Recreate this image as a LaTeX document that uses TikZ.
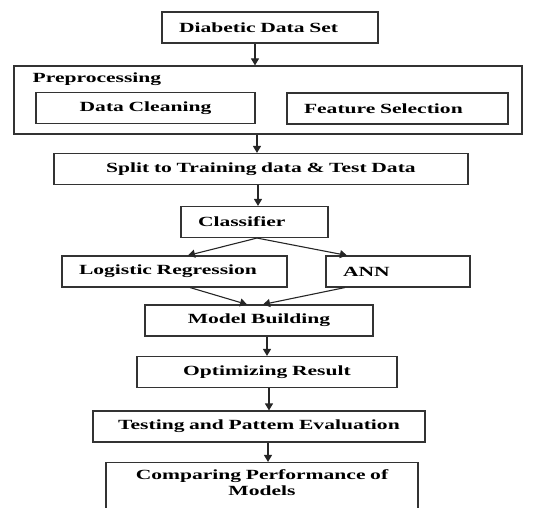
\documentclass[tikz,border=0pt]{standalone}
\usepackage{fontspec}
\setmainfont[FakeStretch=1.54]{Liberation Serif}
\usetikzlibrary{positioning, arrows.meta}

\begin{document}
\begin{tikzpicture} [node distance = 1cm, on grid, x = 1pt, y = 1pt,
    box/.style = {draw = black!80, line width = 1.1pt, inner xsep = 17pt, inner ysep = 0pt,
                  minimum height = 31pt, align = left, font = \fontsize{14pt}{16pt}\selectfont\bfseries},
    arr/.style = {-{Triangle[width = 8pt, length = 7pt]}, line width = 1.1pt, black!85}]
\useasboundingbox (0,0) rectangle (547,-508);
\node (dds) [box, text width = 182pt] at (270,-27.5) {Diabetic Data Set};
\node (pre) [box, minimum width = 508pt, minimum height = 68pt, below = 72.5pt of dds, xshift = -2pt] {};
\node (prelbl) [anchor = west, font = \fontsize{14pt}{16pt}\selectfont\bfseries, inner sep = 0pt]
    at ([xshift = 19pt, yshift = -14pt] pre.north west) {Preprocessing};
\node (clean) [box, text width = 185pt, align = center, below left = 8pt and 122.5pt of pre] {Data Cleaning};
\node (feat) [box, text width = 187pt, below right = 8.5pt and 129.5pt of pre] {Feature Selection};
\node (split) [box, text width = 380pt, align = center, below = 69pt of pre, xshift = -7pt] {Split to Training data \& Test Data};
\node (cls) [box, text width = 113pt, below = 53pt of split, xshift = -6.5pt] {Classifier};
\node (lr) [box, text width = 191pt, below left = 49.5pt and 80pt of cls] {Logistic Regression};
\node (ann) [box, text width = 110pt, below right = 49.5pt and 143.5pt of cls] {ANN};
\node (model) [box, text width = 194pt, align = center, below = 98.5pt of cls, xshift = 4.5pt] {Model Building};
\node (opt) [box, text width = 226pt, align = center, below = 51.5pt of model, xshift = 8pt] {Optimizing Result};
\node (test) [box, text width = 298pt, align = center, below = 54.5pt of opt, xshift = -8pt] {Testing and Pattem Evaluation};
\node (cmp) [box, text width = 278pt, align = center, minimum height = 50pt, below = 61pt of test, xshift = 3pt]
    {Comparing Performance of\\ Models\\[-6pt]\mbox{}};
\path [arr]
    ([xshift = -15pt] dds.south) edge ([xshift = -15pt] dds.south |- pre.north)
    ([xshift = -4pt] split.north |- pre.south) edge ([xshift = -4pt] split.north)
    ([xshift = 3.5pt] cls.north |- split.south) edge ([xshift = 3.5pt] cls.north)
    ([xshift = 2.5pt] cls.south) edge ([xshift = 13.5pt] lr.north)
    ([xshift = 2.5pt] cls.south) edge ([xshift = -51pt] ann.north)
    ([xshift = 15.5pt] lr.south) edge ([xshift = -12pt] model.north)
    ([xshift = -53pt] ann.south) edge ([xshift = 4pt] model.north)
    (model.south -| opt.north) edge (opt.north)
    ([xshift = 2pt] opt.south) edge ([xshift = 2pt] opt.south |- test.north)
    ([xshift = 6pt] cmp.north |- test.south) edge ([xshift = 6pt] cmp.north);
\end{tikzpicture}
\end{document}
